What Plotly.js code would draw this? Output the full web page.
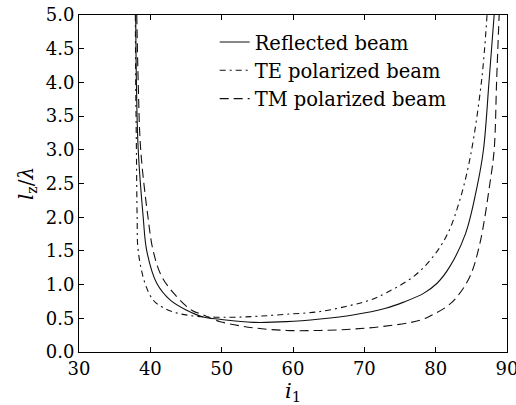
<!DOCTYPE html>
<html>
<head>
<meta charset="utf-8">
<script src="https://cdn.plot.ly/plotly-3.0.1.min.js"></script>
<style>html,body{margin:0;padding:0;background:#fff;}#chart{width:516px;height:405px;}</style>
</head>
<body>
<div id="chart"></div>
<script>
// Reflected beam (solid)
const reflX = [37.95, 38.05, 38.3, 39.0, 39.5, 40.9, 42.8, 45.1, 47.4, 49.8, 54.4, 59.1, 63.8, 68.4, 73.0, 75.5, 78.3, 80.2, 82.0, 84.2, 85.8, 86.7, 87.5, 88.2];
const reflY = [5.0, 4.0, 3.0, 2.0, 1.5, 1.02, 0.77, 0.62, 0.52, 0.485, 0.44, 0.45, 0.49, 0.55, 0.65, 0.74, 0.87, 1.02, 1.27, 1.76, 2.45, 3.0, 4.04, 5.0];
// TE polarized beam (dash-dot)
const teX = [37.9, 37.95, 38.05, 38.15, 38.3, 39.25, 40.4, 41.6, 43.7, 46.5, 51.2, 55.0, 59.1, 63.8, 68.4, 70.8, 73.1, 76.9, 79.6, 81.7, 83.4, 84.9, 86.45, 87.2];
const teY = [5.0, 4.0, 3.0, 2.0, 1.5, 1.02, 0.77, 0.67, 0.58, 0.53, 0.515, 0.53, 0.56, 0.60, 0.70, 0.77, 0.88, 1.12, 1.41, 1.76, 2.26, 2.92, 4.04, 5.0];
// TM polarized beam (dashed)
const tmX = [38.1, 38.3, 38.65, 39.67, 40.4, 41.6, 43.7, 45.8, 47.4, 49.8, 54.4, 59.1, 63.8, 68.4, 72.7, 77.8, 79.5, 81.5, 83.0, 84.8, 86.2, 87.6, 88.2, 88.55, 88.9];
const tmY = [5.0, 4.0, 3.0, 2.0, 1.5, 1.12, 0.82, 0.62, 0.55, 0.45, 0.36, 0.32, 0.32, 0.34, 0.38, 0.47, 0.55, 0.67, 0.82, 1.12, 1.61, 2.5, 3.0, 4.04, 5.0];
const names = ['Reflected beam', 'TE polarized beam', 'TM polarized beam'];

const font = 'DejaVu Serif';
const lineOpts = {color: '#111', width: 1.1, shape: 'spline', smoothing: 1.0};
const traces = [
  {x: reflX, y: reflY, name: names[0], mode: 'lines', line: Object.assign({}, lineOpts)},
  {x: teX, y: teY, name: names[1], mode: 'lines', line: Object.assign({}, lineOpts, {dash: '6px,4px,2px,4px'})},
  {x: tmX, y: tmY, name: names[2], mode: 'lines', line: Object.assign({}, lineOpts, {dash: '9px,5px'})}
];
const axisCommon = {
  showline: true, linecolor: '#000', linewidth: 1, mirror: 'ticks',
  ticks: 'inside', ticklen: 5, tickcolor: '#000', showgrid: false, zeroline: false,
  ticklabeloverflow: 'allow',
  tickfont: {family: font, size: 18, color: '#000'}
};
const layout = {
  width: 516, height: 405,
  margin: {l: 79, r: 9, t: 15, b: 53},
  paper_bgcolor: '#fff', plot_bgcolor: '#fff',
  showlegend: true,
  legend: {x: 0.317, y: 0.977, xanchor: 'left', yanchor: 'top', bgcolor: 'rgba(0,0,0,0)',
           font: {family: font, size: 19.5, color: '#000'}, tracegroupgap: 0},
  xaxis: Object.assign({}, axisCommon, {range: [30, 90], dtick: 10, tick0: 30,
           title: {text: '<i>i</i><sub>1</sub>', font: {family: font, size: 21, color: '#000'}, standoff: 2}}),
  yaxis: Object.assign({}, axisCommon, {range: [0, 5], dtick: 0.5, tick0: 0, tickformat: '.1f',
           title: {text: '<i>l</i><sub>z</sub>/<i>λ</i>', font: {family: font, size: 20, color: '#000'}, standoff: 6}})
};
Plotly.newPlot('chart', traces, layout, {staticPlot: true, displayModeBar: false});
</script>
</body>
</html>
